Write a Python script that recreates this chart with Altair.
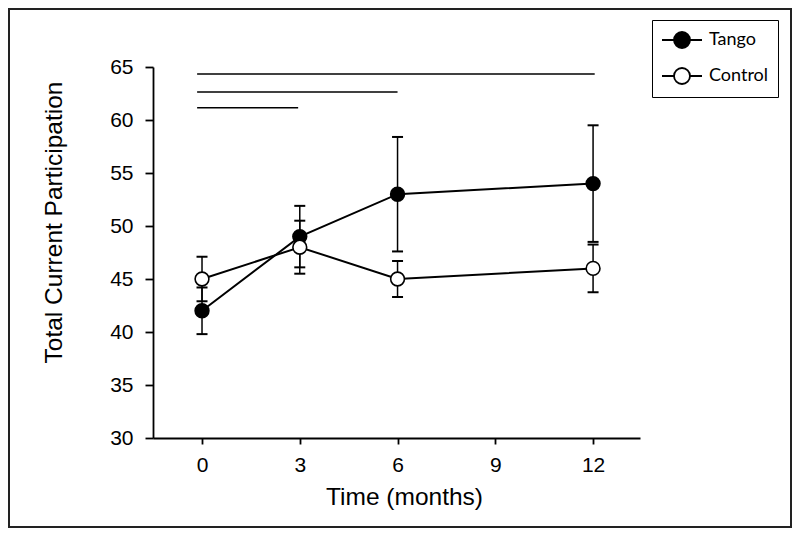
import altair as alt
import pandas as pd

# ---- data ----
months = [0, 3, 6, 12]
tango_mean = [42, 49, 53, 54]
tango_err = [2.2, 2.9, 5.4, 5.5]
control_mean = [45, 48, 45, 46]
control_err = [2.1, 2.5, 1.7, 2.25]

sig_start = [-0.15, -0.15, -0.15]
sig_end = [12.05, 6.0, 2.95]
sig_y = [64.35, 62.65, 61.15]

groups = ["Tango", "Control"]

rows = []
for g, means, errs in [("Tango", tango_mean, tango_err), ("Control", control_mean, control_err)]:
    for t, m, e in zip(months, means, errs):
        rows.append({"group": g, "t": t, "mean": m, "lo": m - e, "hi": m + e})
df = pd.DataFrame(rows)
sig = pd.DataFrame({"x1": sig_start, "x2": sig_end, "y": sig_y})
frame_df = pd.DataFrame({"k": [0]})

W, H = 487, 371
FONT = "Liberation Sans"

xs = alt.Scale(domain=[-1.504, 13.44], nice=False, zero=False)
ys = alt.Scale(domain=[30, 65], nice=False, zero=False)

x_axis = alt.Axis(values=[0, 3, 6, 9, 12], title="Time (months)", grid=False,
                  tickSize=6, labelPadding=10, titlePadding=10, titleX=251,
                  labelFontSize=21, titleFontSize=24.5)
y_axis = alt.Axis(values=[30, 35, 40, 45, 50, 55, 60, 65], title="Total Current Participation",
                  grid=False, tickSize=8, labelPadding=12, titlePadding=43, titleY=155,
                  labelFontSize=21, titleFontSize=24.5)

base = alt.Chart(df)

err_rule = base.mark_rule(color="black", strokeWidth=1.5).encode(
    x=alt.X("t:Q", scale=xs, axis=x_axis),
    y=alt.Y("lo:Q", scale=ys, axis=y_axis),
    y2="hi:Q",
)
cap_lo = base.mark_tick(orient="horizontal", size=11, thickness=2, color="black", opacity=1).encode(
    x=alt.X("t:Q", scale=xs), y=alt.Y("lo:Q", scale=ys))
cap_hi = base.mark_tick(orient="horizontal", size=11, thickness=2, color="black", opacity=1).encode(
    x=alt.X("t:Q", scale=xs), y=alt.Y("hi:Q", scale=ys))

lines = base.mark_line(color="black", strokeWidth=2).encode(
    x=alt.X("t:Q", scale=xs), y=alt.Y("mean:Q", scale=ys), detail="group:N")

legend_path = "M-1,0H0.2M1.8,0H3M1.8,0A0.8,0.8,0,1,1,0.2,0A0.8,0.8,0,1,1,1.8,0Z"

points = base.mark_point(shape="circle", filled=True, size=190, stroke="black",
                         strokeWidth=1.6, opacity=1).encode(
    x=alt.X("t:Q", scale=xs), y=alt.Y("mean:Q", scale=ys),
    fill=alt.Fill("group:N", scale=alt.Scale(domain=groups, range=["black", "white"]),
                  legend=alt.Legend(orient="none", legendX=499, legendY=-47, title=None,
                                    symbolType=legend_path, symbolSize=400,
                                    symbolStrokeColor="black", symbolStrokeWidth=1.8,
                                    symbolOpacity=1,
                                    strokeColor="black", padding=9, rowPadding=12,
                                    labelOffset=26, labelFont="Lato", labelFontSize=18,
                                    labelColor="black")),
)

sig_lines = alt.Chart(sig).mark_rule(color="black", strokeWidth=1.5).encode(
    x=alt.X("x1:Q", scale=xs), x2="x2:Q", y=alt.Y("y:Q", scale=ys))

frame = alt.Chart(frame_df).mark_rect(filled=False, stroke="#222222", strokeWidth=2).encode(
    x=alt.value(-144), x2=alt.value(638), y=alt.value(-58), y2=alt.value(460))

chart = alt.layer(frame, sig_lines, err_rule, cap_lo, cap_hi, lines, points).properties(
    width=W, height=H,
    autosize=alt.AutoSizeParams(type="none"),
    padding={"left": 145, "top": 59, "right": 152, "bottom": 90},
    background="white",
).configure_view(stroke=None).configure_axis(
    domainColor="black", domainWidth=1.8, tickColor="black", tickWidth=1.8,
    labelColor="black", titleColor="black", labelFont=FONT, titleFont=FONT,
    titleFontWeight="normal",
)

chart.save("out.html", embed_options={"renderer": "svg", "actions": False})
